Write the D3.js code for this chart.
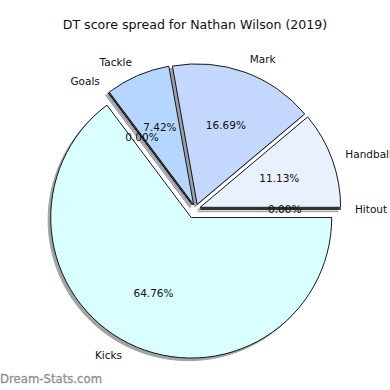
<!DOCTYPE html>
<html>
<head>
<meta charset="utf-8">
<script src="https://cdn.jsdelivr.net/npm/d3@7"></script>
<style>
  body { margin: 0; background: #fff; }
  svg { display: block; font-family: "DejaVu Sans", sans-serif; }
</style>
</head>
<body>
<svg id="chart"></svg>
<script>
/** Chart data (counter-clockwise from 3 o'clock, like matplotlib) */
const labels = ['Hitout', 'Handball', 'Mark', 'Tackle', 'Goals', 'Kicks'];
const shares = [0.00, 11.13, 16.69, 7.42, 0.00, 64.76];
const colors = ['#f4f8ff', '#e9f0fe', '#c4d8ff', '#b5d7ff', '#d0e6ff', '#d9ffff'];
const explode = [0.035, 0.035, 0.035, 0.035, 0.035, 0.068]; // fraction of radius

const title = 'DT score spread for Nathan Wilson (2019)';

let width = 390;
let height = 390;
let cx = 195.5;
let cy = 209;
let radius = 140.5;
let shadowOffset = 2.6;

let svg = d3.select('#chart').attr('width', width).attr('height', height);

const pie = d3.pie().sort(null).value(d => d)
    .startAngle(0).endAngle(2 * Math.PI);
const arcs = pie(shares);

// d3 angles go clockwise from north, matplotlib counter-clockwise from east
const arc = d3.arc().innerRadius(0).outerRadius(radius)
    .startAngle(d => Math.PI / 2 - d.endAngle)
    .endAngle(d => Math.PI / 2 - d.startAngle);

const midAngle = d => (d.startAngle + d.endAngle) / 2;
const offset = (d, i) => {
    const m = midAngle(d);
    return [cx + explode[i] * radius * Math.cos(m), cy - explode[i] * radius * Math.sin(m)];
};

const shade = c => {
    const rgb = d3.rgb(c);
    return d3.rgb(rgb.r * 0.3, rgb.g * 0.3, rgb.b * 0.3).toString();
};

/** shadows first, then wedges */
svg.append('g').selectAll('path')
    .data(arcs)
    .enter()
    .append('path')
    .attr('d', arc)
    .attr('transform', (d, i) => {
        const [x, y] = offset(d, i);
        return `translate(${x - shadowOffset}, ${y + shadowOffset})`;
    })
    .attr('fill', (d, i) => shade(colors[i]))
    .attr('stroke', (d, i) => shade(colors[i]))
    .attr('stroke-width', 1)
    .attr('opacity', 0.5);

svg.append('g').selectAll('path')
    .data(arcs)
    .enter()
    .append('path')
    .attr('d', arc)
    .attr('transform', (d, i) => {
        const [x, y] = offset(d, i);
        return `translate(${x}, ${y})`;
    })
    .attr('fill', (d, i) => colors[i])
    .attr('stroke', '#000')
    .attr('stroke-width', 0.9)
    .attr('stroke-linejoin', 'round');

/** category labels at 1.1 r */
svg.append('g').selectAll('text')
    .data(arcs)
    .enter()
    .append('text')
    .attr('x', (d, i) => offset(d, i)[0] + 1.1 * radius * Math.cos(midAngle(d)))
    .attr('y', (d, i) => offset(d, i)[1] - 1.1 * radius * Math.sin(midAngle(d)))
    .attr('dy', '0.35em')
    .attr('text-anchor', d => Math.cos(midAngle(d)) > 0 ? 'start' : 'end')
    .attr('font-size', 10.5)
    .attr('fill', '#111')
    .text((d, i) => labels[i]);

/** percentages at 0.6 r */
svg.append('g').selectAll('text')
    .data(arcs)
    .enter()
    .append('text')
    .attr('x', (d, i) => offset(d, i)[0] + 0.6 * radius * Math.cos(midAngle(d)))
    .attr('y', (d, i) => offset(d, i)[1] - 0.6 * radius * Math.sin(midAngle(d)))
    .attr('dy', '0.35em')
    .attr('text-anchor', 'middle')
    .attr('font-size', 10.5)
    .attr('fill', '#111')
    .text(d => d3.format('.2f')(d.value) + '%');

svg.append('text')
    .attr('x', 195)
    .attr('y', 25)
    .attr('dy', '0.35em')
    .attr('text-anchor', 'middle')
    .attr('font-size', 12.6)
    .attr('fill', '#111')
    .text(title);

svg.append('text')
    .attr('x', 0)
    .attr('y', 383)
    .attr('font-size', 11.7)
    .attr('fill', '#8f8f8f')
    .attr('stroke', '#8f8f8f')
    .attr('stroke-width', 0.3)
    .text('Dream-Stats.com');
</script>
</body>
</html>
